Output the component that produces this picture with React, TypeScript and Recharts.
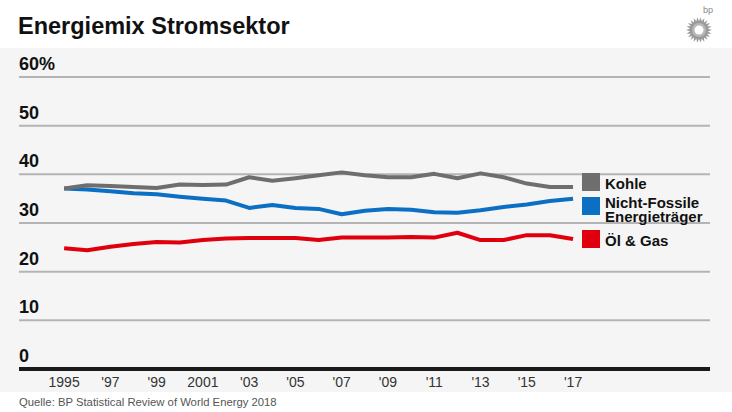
import React from 'react';
import { LineChart, Line, XAxis, YAxis, CartesianGrid, ReferenceLine } from 'recharts';

// Anteile am Strommix in %
const years = [1995, 1996, 1997, 1998, 1999, 2000, 2001, 2002, 2003, 2004, 2005, 2006, 2007, 2008, 2009, 2010, 2011, 2012, 2013, 2014, 2015, 2016, 2017];
const kohle = [37.1, 37.75, 37.6, 37.4, 37.2, 37.9, 37.8, 37.9, 39.4, 38.7, 39.2, 39.8, 40.4, 39.8, 39.4, 39.4, 40.1, 39.2, 40.2, 39.4, 38.1, 37.4, 37.4];
const nichtFossile = [37.1, 36.9, 36.5, 36.1, 35.9, 35.4, 35.0, 34.6, 33.1, 33.7, 33.1, 32.9, 31.8, 32.5, 32.9, 32.7, 32.2, 32.1, 32.6, 33.3, 33.8, 34.5, 35.0];
const oelGas = [24.8, 24.4, 25.1, 25.7, 26.1, 26.0, 26.5, 26.8, 26.9, 26.9, 26.9, 26.5, 27.0, 27.0, 27.0, 27.1, 27.0, 28.0, 26.5, 26.5, 27.5, 27.5, 26.7];

const xTicks = [1995, 1997, 1999, 2001, 2003, 2005, 2007, 2009, 2011, 2013, 2015, 2017];
const yTicks = [0, 10, 20, 30, 40, 50, 60];

const legendItems = [
  { label: ['Kohle'], color: '#6e6e6e', top: 173, textOffset: 4 },
  { label: ['Nicht-Fossile', 'Energieträger'], color: '#0b6fc4', top: 197, textOffset: -1.5 },
  { label: ['Öl & Gas'], color: '#e0000d', top: 230, textOffset: 4 },
];

const FONT = '"Liberation Sans", Arial, sans-serif';

const data = years.map((year, i) => ({
  year,
  kohle: kohle[i],
  nichtFossile: nichtFossile[i],
  oelGas: oelGas[i],
}));

function formatYear(y: number) {
  if (y === 1995 || y === 2001) return String(y);
  return "'" + String(y).slice(2);
}

const XTick = (props: any) => {
  const { x, y, payload } = props;
  return (
    <text x={x} y={y + 10} textAnchor="middle" fontSize={14} fill="#333" fontFamily={FONT}>
      {formatYear(payload.value)}
    </text>
  );
};

const YTick = (props: any) => {
  const { y, payload } = props;
  return (
    <text x={19} y={y - 7} textAnchor="start" fontSize={18} fontWeight="bold" fill="#111" fontFamily={FONT}>
      {payload.value === 60 ? '60%' : payload.value}
    </text>
  );
};

function BpLogo() {
  const pts: string[] = [];
  const n = 22;
  for (let i = 0; i < n * 2; i++) {
    const r = i % 2 === 0 ? 13 : 9;
    const a = (Math.PI * i) / n;
    pts.push(`${(r * Math.cos(a)).toFixed(2)},${(r * Math.sin(a)).toFixed(2)}`);
  }
  return (
    <svg width={40} height={48} style={{ position: 'absolute', left: 680, top: 0 }}>
      <text x={23} y={13} fontSize={9} fill="#888" fontFamily={FONT}>bp</text>
      <g transform="translate(19,30)">
        <polygon points={pts.join(' ')} fill="#9a9a9a" />
        <circle r={7} fill="#b8b8b8" />
        <circle r={4.5} fill="#fff" />
      </g>
    </svg>
  );
}

export default function App() {
  React.useEffect(() => {
    document.body.style.margin = '0';
  }, []);

  return (
    <div style={{ position: 'absolute', left: 0, top: 0, width: 732, height: 412, background: '#fff', fontFamily: FONT, overflow: 'hidden' }}>
      <div style={{ position: 'absolute', left: 18, top: 13, fontSize: 23.5, fontWeight: 'bold', color: '#111' }}>
        Energiemix Stromsektor
      </div>
      <BpLogo />
      <div style={{ position: 'absolute', left: 0, top: 48, width: 732, height: 344, background: '#f5f5f5' }} />

      <div style={{ position: 'absolute', left: 0, top: 0 }}>
        <LineChart width={732} height={412} data={data} margin={{ top: 77, right: 22, bottom: 0, left: 18 }}>
          <CartesianGrid horizontal vertical={false} stroke="#b4b4b4" strokeWidth={2} />
          <XAxis
            dataKey="year"
            type="number"
            domain={[1993.05, 2022.92]}
            ticks={xTicks}
            axisLine={false}
            tickLine={false}
            height={43}
            tick={<XTick />}
            interval={0}
          />
          <YAxis
            domain={[0, 60]}
            ticks={yTicks}
            axisLine={false}
            tickLine={false}
            width={1}
            tick={<YTick />}
            interval={0}
          />
          <ReferenceLine y={0} stroke="#1a1a1a" strokeWidth={4} />
          <Line type="linear" dataKey="oelGas" stroke="#e0000d" strokeWidth={4} dot={false} isAnimationActive={false} strokeLinejoin="round" />
          <Line type="linear" dataKey="nichtFossile" stroke="#0b6fc4" strokeWidth={4} dot={false} isAnimationActive={false} strokeLinejoin="round" />
          <Line type="linear" dataKey="kohle" stroke="#6e6e6e" strokeWidth={4} dot={false} isAnimationActive={false} strokeLinejoin="round" />
        </LineChart>
      </div>

      {legendItems.map((item) => (
        <div key={item.label[0]} style={{ position: 'absolute', left: 582, top: item.top }}>
          <div style={{ width: 18, height: 18, background: item.color }} />
          <div style={{ position: 'absolute', left: 23, top: item.textOffset, fontSize: 15, fontWeight: 'bold', color: '#111', lineHeight: '14px', whiteSpace: 'nowrap' }}>
            {item.label.map((l) => (
              <div key={l}>{l}</div>
            ))}
          </div>
        </div>
      ))}

      <div style={{ position: 'absolute', left: 19, top: 396, fontSize: 11.3, color: '#555' }}>
        Quelle: BP Statistical Review of World Energy 2018
      </div>
    </div>
  );
}
